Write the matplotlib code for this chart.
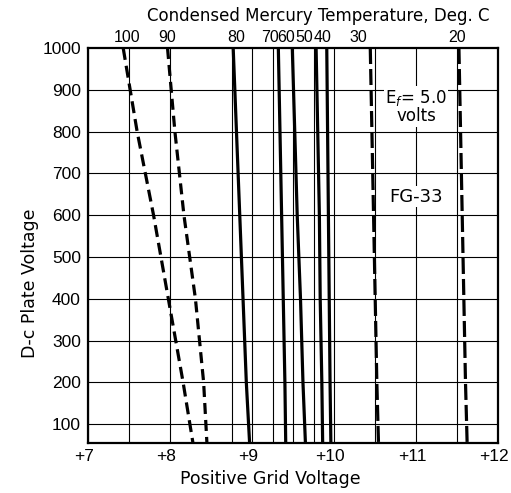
import matplotlib
matplotlib.use("Agg")
import matplotlib.pyplot as plt
from matplotlib.transforms import ScaledTranslation

plt.rcParams['font.family'] = ['DejaVu Sans']
plt.rcParams['lines.scale_dashes'] = False

# Plate voltage levels at which the curves are read
plate_v = [1000, 800, 600, 400, 200, 55]

# Positive grid voltage for each condensed-mercury temperature (deg C)
temps = [100, 90, 80, 70, 60, 50, 40, 30, 20]
grid_v = {
    100: [7.43, 7.60, 7.80, 7.98, 8.16, 8.28],
    90:  [7.97, 8.06, 8.17, 8.31, 8.41, 8.45],
    80:  [8.77, 8.81, 8.85, 8.89, 8.93, 8.97],
    70:  [9.32, 9.34, 9.36, 9.38, 9.40, 9.41],
    60:  [9.49, 9.52, 9.55, 9.59, 9.62, 9.65],
    50:  [9.78, 9.80, 9.82, 9.83, 9.85, 9.86],
    40:  [9.91, 9.92, 9.93, 9.94, 9.95, 9.96],
    30:  [10.44, 10.46, 10.48, 10.50, 10.52, 10.54],
    20:  [11.52, 11.54, 11.56, 11.58, 11.60, 11.62],
}
dashed = {100: (12, 6), 90: (11, 6), 30: (16, 5), 20: (16, 5)}

# top-axis label positions (grid-voltage units) for the temperature labels
top_label_x = [7.48, 7.97, 8.81, 9.22, 9.42, 9.63, 9.86, 10.30, 11.50]

x_ticks = [7, 8, 9, 10, 11, 12]
x_tick_labels = ['+7', '+8', '+9', '+10', '+11', '+12']
y_ticks = [100, 200, 300, 400, 500, 600, 700, 800, 900, 1000]
v_grid = [7, 7.5, 8, 8.75, 9, 9.25, 9.5, 9.75, 10, 10.5, 11, 11.5, 12]

tick_font = ['Liberation Sans', 'DejaVu Sans']

fig = plt.figure(figsize=(5.11, 4.93), dpi=100)
ax = fig.add_axes([0.172, 0.1014, 0.8032, 0.8012])
ax.set_xlim(7, 12)
ax.set_ylim(55, 1000)

for v in v_grid:
    ax.axvline(v, color='black', lw=0.8, zorder=1)
for y in y_ticks[:-1]:
    ax.axhline(y, color='black', lw=0.8, zorder=1)

for t in temps:
    xs = grid_v[t]
    if t in dashed:
        on, off = dashed[t]
        ax.plot(xs, plate_v, color='black', lw=2.3,
                linestyle=(0, (on * 0.72, off * 0.72)), dash_capstyle='butt',
                zorder=3)
    else:
        ax.plot(xs, plate_v, color='black', lw=2.3, zorder=3,
                solid_capstyle='butt')

for s in ax.spines.values():
    s.set_linewidth(1.6)

ax.set_xticks(x_ticks)
ax.set_xticklabels(x_tick_labels, fontsize=12.5, family=tick_font)
ax.set_yticks(y_ticks)
ax.set_yticklabels([str(y) for y in y_ticks], fontsize=12.5, family=tick_font)
ax.tick_params(length=0, pad=5)
ax.tick_params(axis='x', pad=4)
shift = ScaledTranslation(-4 / 100, 0, fig.dpi_scale_trans)
for lab in ax.get_xticklabels():
    lab.set_transform(lab.get_transform() + shift)

ax.set_xlabel('Positive Grid Voltage', fontsize=12.5, labelpad=0)
ax.xaxis.set_label_coords(0.444, -0.068)
ax.set_ylabel('D-c Plate Voltage', fontsize=12.5)
ax.yaxis.set_label_coords(-0.118, 0.405)

top = ax.secondary_xaxis('top')
top.set_xticks(top_label_x)
top.set_xticklabels([str(t) for t in temps], fontsize=11.5, family=tick_font)
top.tick_params(length=0, pad=2)
top.spines['top'].set_visible(False)
fig.text(0.622, 0.968, 'Condensed Mercury Temperature, Deg. C',
         ha='center', va='center', fontsize=12)

ax.text(11.0, 860, r'E$_f$= 5.0' + '\nvolts', ha='center', va='center',
        fontsize=12, linespacing=0.95,
        bbox=dict(facecolor='white', edgecolor='none', pad=1), zorder=4)
ax.text(11.0, 644, 'FG-33', ha='center', va='center', fontsize=13,
        bbox=dict(facecolor='white', edgecolor='none', pad=1), zorder=4)

fig.savefig('out.png', dpi=100)
